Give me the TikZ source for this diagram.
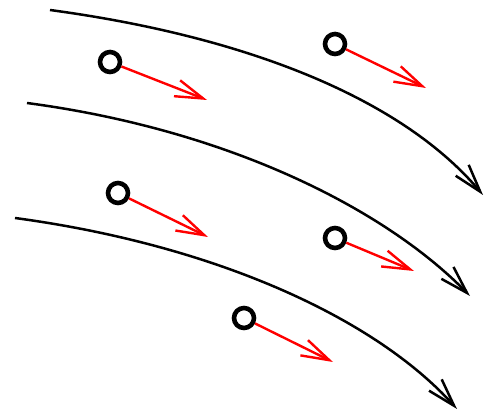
\documentclass[tikz,border=0pt]{standalone}
\usetikzlibrary{arrows.meta}
\begin{document}
\begin{tikzpicture}[x=1pt,y=-1pt,
  flowline/.style={line width=2.5pt,-{Straight Barb[length=28pt,width=17pt]}},
  velarrow/.style={red,line width=2.4pt,-{Straight Barb[length=28pt,width=17pt]}},
  particle/.style={circle,draw,line width=4.6pt,minimum size=20pt,inner sep=0pt}]
\useasboundingbox (0,0) rectangle (485,419);
% flow lines
\coordinate (a0) at (50,10);  \coordinate (a1) at (483,195);
\coordinate (b0) at (27,103); \coordinate (b1) at (470,296);
\coordinate (c0) at (15,218); \coordinate (c1) at (457,409);
\draw[flowline] (a0) .. controls (250,37) and (403,100) .. (a1);
\draw[flowline] (b0) .. controls (230,130) and (386,210) .. (b1);
\draw[flowline] (c0) .. controls (215,245) and (375,318) .. (c1);
% particles
\node[particle] (p1) at (110,62) {};
\node[particle] (p2) at (335,44) {};
\node[particle] (p3) at (118,193) {};
\node[particle] (p4) at (335,238) {};
\node[particle] (p5) at (244,318) {};
\coordinate (v1) at (207,100);
\coordinate (v2) at (426,88);
\coordinate (v3) at (208,237);
\coordinate (v4) at (414,271);
\coordinate (v5) at (333,362);
\draw[velarrow] (p1) -- (v1);
\draw[velarrow] (p2) -- (v2);
\draw[velarrow] (p3) -- (v3);
\draw[velarrow] (p4) -- (v4);
\draw[velarrow] (p5) -- (v5);
\end{tikzpicture}
\end{document}
